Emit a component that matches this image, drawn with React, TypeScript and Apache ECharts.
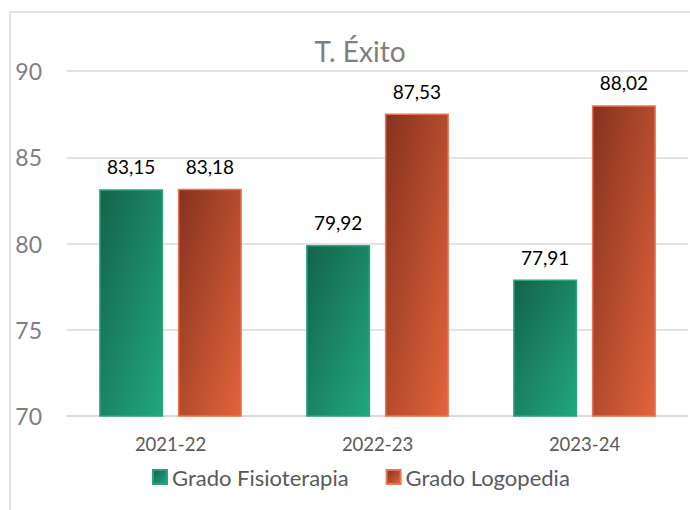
import React, { useEffect, useRef } from "react";
import * as echarts from "echarts";

const categories = ["2021-22", "2022-23", "2023-24"];
const fisioterapia = [83.15, 79.92, 77.91];
const logopedia = [83.18, 87.53, 88.02];
const seriesNames = ["Grado Fisioterapia", "Grado Logopedia"];
const titleText = "T. Éxito";

const FONT = "Lato, 'Open Sans', sans-serif";

const grad = (a: string, b: string) =>
  new echarts.graphic.LinearGradient(0, 0, 1, 1, [
    { offset: 0, color: a },
    { offset: 1, color: b },
  ]);

export default function App() {
  const ref = useRef<HTMLDivElement>(null);
  useEffect(() => {
    if (!ref.current) return;
    const chart = echarts.init(ref.current, undefined, { renderer: "svg" });
    const fmt = (p: any) => Number(p.value).toFixed(2).replace(".", ",");
    const labelStyle = {
      show: true,
      position: "top",
      distance: 13,
      formatter: fmt,
      fontFamily: FONT,
      fontSize: 19,
      color: "#000000",
    };
    chart.setOption({
      animation: false,
      backgroundColor: "#ffffff",
      title: {
        text: titleText,
        left: 355,
        textAlign: "center",
        top: 32,
        textStyle: { fontFamily: FONT, fontSize: 28, fontWeight: "normal", color: "#7f7f7f" },
      },
      graphic: [
        {
          type: "rect",
          shape: { x: 10, y: 12, width: 720, height: 540 },
          style: { fill: "none", stroke: "#d9d9d9", lineWidth: 1.5 },
          silent: true,
        },
      ],
      legend: {
        data: seriesNames,
        left: 152,
        top: 466,
        padding: 0,
        itemWidth: 14,
        itemHeight: 14,
        itemGap: 37,
        icon: "rect",
        textStyle: { fontFamily: FONT, fontSize: 22, color: "#595959" },
      },
      grid: { left: 67, right: 2, top: 71, height: 345, containLabel: false },
      xAxis: {
        type: "category",
        data: categories,
        axisLine: { lineStyle: { color: "#d9d9d9", width: 1.5 } },
        axisTick: { show: false },
        axisLabel: { fontFamily: FONT, fontSize: 18.5, color: "#595959", margin: 18 },
      },
      yAxis: {
        type: "value",
        min: 70,
        max: 90,
        interval: 5,
        axisLine: { show: false },
        axisTick: { show: false },
        splitLine: { lineStyle: { color: "#d9d9d9", width: 1.5 } },
        axisLabel: { fontFamily: FONT, fontSize: 23, color: "#7f7f7f", margin: 25 },
      },
      series: [
        {
          name: seriesNames[0],
          type: "bar",
          data: fisioterapia,
          barWidth: 64,
          barGap: "23%",
          itemStyle: {
            color: grad("#13634a", "#22a77e"),
            borderColor: "#2aa47f",
            borderWidth: 1.5,
          },
          label: labelStyle,
        },
        {
          name: seriesNames[1],
          type: "bar",
          data: logopedia,
          barWidth: 64,
          itemStyle: {
            color: grad("#85321e", "#e3643c"),
            borderColor: "#e87552",
            borderWidth: 1.5,
          },
          label: labelStyle,
        },
      ],
    });
    return () => chart.dispose();
  }, []);
  return (
    <div
      ref={ref}
      style={{ position: "fixed", left: 0, top: 0, width: 690, height: 510 }}
    />
  );
}
